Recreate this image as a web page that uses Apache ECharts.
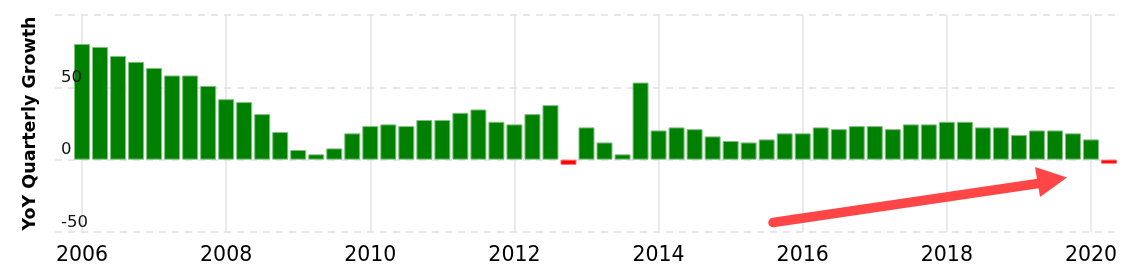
<!DOCTYPE html>
<html>
<head>
<meta charset="utf-8">
<script src="https://cdn.jsdelivr.net/npm/echarts@6/dist/echarts.min.js"></script>
<style>
html,body{margin:0;padding:0;background:#fff;}
#chart{width:1127px;height:271px;}
</style>
</head>
<body>
<div id="chart"></div>
<script>
// Quarterly data starting 2006 Q1
const startYear = 2006;
const yoyGrowth = [
  80.0, 77.9, 71.7, 67.6, 63.4, 58.2, 58.2, 51.0,
  41.8, 39.8, 31.5, 19.1, 6.7, 3.7, 7.8, 18.2,
  23.2, 24.4, 23.2, 27.4, 27.4, 32.4, 34.7, 26.2,
  24.4, 31.5, 37.7, -3.6, 22.3, 11.9, 3.7, 53.3,
  20.2, 22.3, 21.1, 16.1, 12.9, 11.9, 14.0, 18.2,
  18.2, 22.3, 21.1, 23.2, 23.2, 21.1, 24.4, 24.4,
  26.2, 26.2, 22.3, 22.3, 17.0, 20.2, 20.2, 18.2,
  14.0, -2.8
];
const yearTicks = [2006, 2008, 2010, 2012, 2014, 2016, 2018, 2020];
const yTicks = [-50, 0, 50, 100];
const yTitle = 'YoY Quarterly Growth';

const seriesData = yoyGrowth.map((v, i) => ({
  value: [startYear + i / 4, v],
  itemStyle: v < 0
    ? { color: '#ff0000', borderColor: '#ff6a6a' }
    : { color: '#008000', borderColor: '#80c080' }
}));

const yMin = yTicks[0];
const yMax = yTicks[yTicks.length - 1];

const chart = echarts.init(document.getElementById('chart'));
chart.setOption({
  animation: false,
  grid: { left: 55, right: 9, top: 15, bottom: 39 },
  xAxis: {
    type: 'value',
    min: 2005.625,
    max: 2020.375,
    axisLine: { show: false },
    axisTick: { show: false, customValues: yearTicks },
    axisLabel: {
      customValues: yearTicks,
      fontFamily: 'DejaVu Sans',
      fontSize: 20.5,
      color: '#000',
      margin: 13,
      formatter: v => String(v)
    },
    splitLine: { show: true, lineStyle: { color: '#e3e3e3', width: 1.5, type: 'solid' } }
  },
  yAxis: [
    {
      type: 'value',
      position: 'left',
      min: yMin,
      max: yMax,
      interval: 50,
      name: yTitle,
      nameLocation: 'middle',
      nameRotate: 90,
      nameGap: 16,
      nameTextStyle: { fontFamily: 'DejaVu Sans', fontWeight: 'bold', fontSize: 17.5, color: '#000' },
      axisLine: { show: false },
      axisTick: { show: false },
      axisLabel: { show: false },
      splitLine: { show: true, lineStyle: { color: '#e0e0e0', width: 1.5, type: [7, 6] } }
    },
    {
      type: 'value',
      position: 'left',
      offset: 0,
      min: yMin,
      max: yMax,
      interval: 50,
      z: 10,
      axisLine: { show: false },
      axisTick: { show: false },
      splitLine: { show: false },
      axisLabel: {
        inside: true,
        showMaxLabel: false,
        margin: 6,
        verticalAlign: 'bottom',
        fontFamily: 'DejaVu Sans',
        fontSize: 16.5,
        color: '#111',
        padding: [0, 0, 1, 0]
      }
    }
  ],
  series: [{
    type: 'bar',
    barWidth: 16,
    data: seriesData,
    itemStyle: { borderWidth: 1 }
  }],
  graphic: [
    {
      type: 'line',
      shape: { x1: 773, y1: 222.5, x2: 1045, y2: 182.5 },
      style: { stroke: '#ff4646', lineWidth: 9.5, lineCap: 'round' },
      z: 100
    },
    {
      type: 'polygon',
      shape: { points: [[1035, 167], [1067, 177.5], [1040, 197]] },
      style: { fill: '#ff4646' },
      z: 100
    }
  ]
});
</script>
</body>
</html>
